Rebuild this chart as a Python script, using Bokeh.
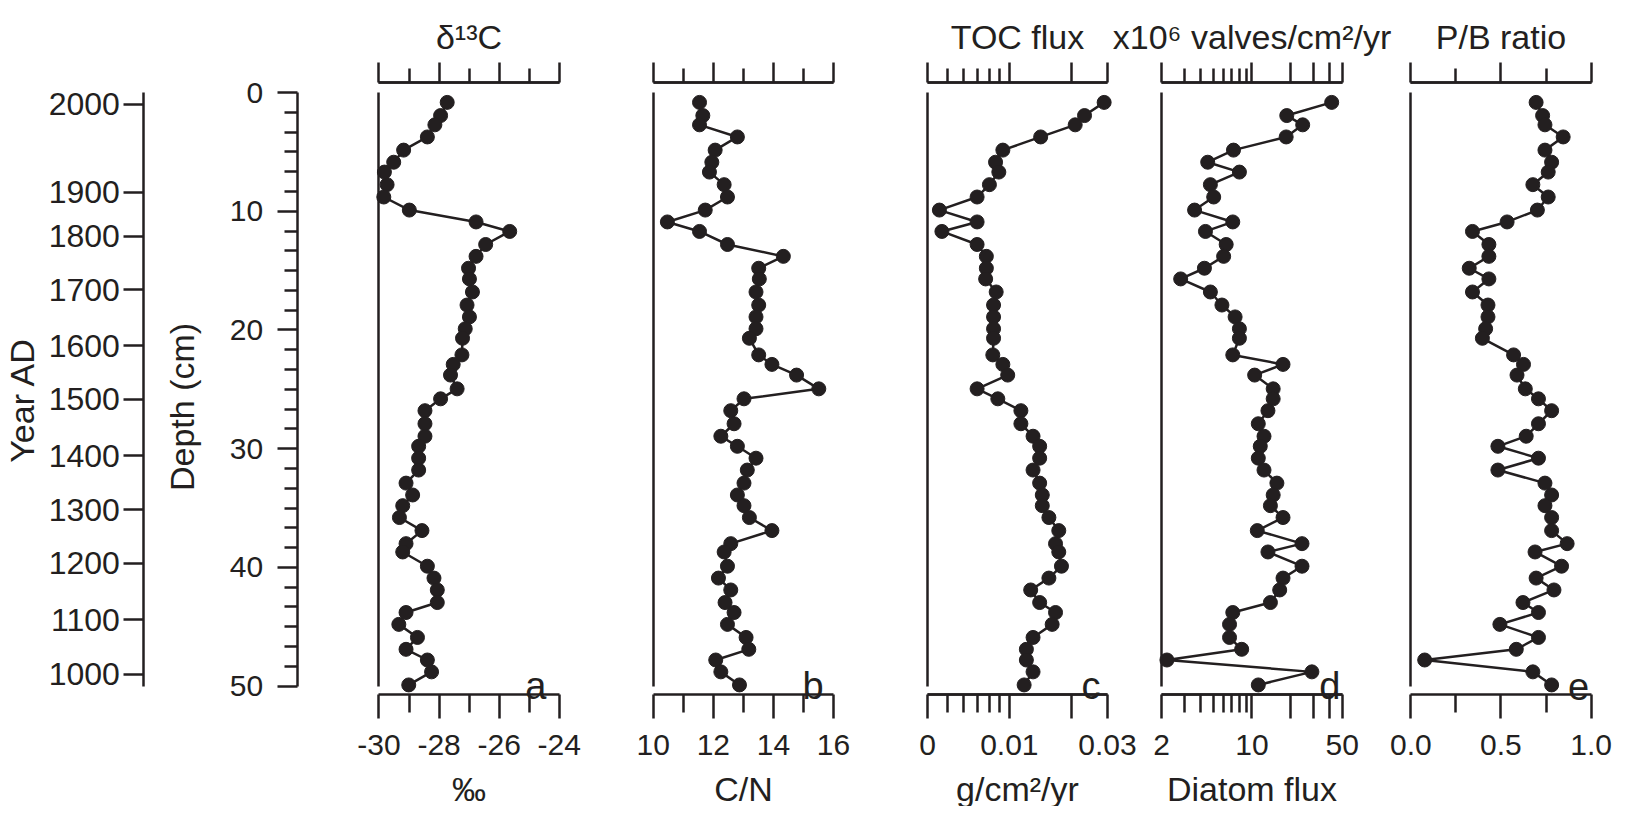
import math
from bokeh.plotting import figure
from bokeh.models import (Range1d, LinearAxis, LogAxis, LogScale, FixedTicker,
                          Label, ColumnDataSource)
from bokeh.embed import file_html
from bokeh.resources import INLINE

# ---------------- data ----------------
depth = [0.83, 1.94, 2.72, 3.74, 4.85, 5.87, 6.70, 7.76, 8.80, 9.90,
         10.9, 11.7, 12.8, 13.8, 14.8, 15.7, 16.8, 17.9, 18.9, 19.9,
         20.7, 22.1, 22.9, 23.8, 24.96, 25.8, 26.8, 27.9, 28.95, 29.8,
         30.8, 31.8, 32.9, 33.9, 34.8, 35.8, 36.9, 38.0, 38.7, 39.9,
         40.9, 41.9, 42.96, 43.8, 44.8, 45.9, 46.9, 47.8, 48.8, 49.9]

d13c = [-27.73, -27.95, -28.14, -28.39, -29.18, -29.51, -29.82, -29.73, -29.84, -28.99,
        -26.77, -25.65, -26.45, -26.77, -27.02, -26.99, -26.89, -27.07, -26.99, -27.13,
        -27.22, -27.24, -27.53, -27.62, -27.40, -27.95, -28.47, -28.47, -28.47, -28.68,
        -28.68, -28.68, -29.10, -28.88, -29.21, -29.32, -28.57, -29.10, -29.21, -28.39,
        -28.17, -28.06, -28.06, -29.10, -29.34, -28.72, -29.10, -28.39, -28.25, -29.01]

cn = [11.54, 11.65, 11.54, 12.80, 12.06, 11.95, 11.87, 12.36, 12.47, 11.73,
      10.47, 11.54, 12.47, 14.33, 13.51, 13.53, 13.42, 13.51, 13.42, 13.42,
      13.20, 13.51, 13.95, 14.77, 15.51, 13.02, 12.58, 12.69, 12.25, 12.80,
      13.42, 13.13, 13.02, 12.80, 13.02, 13.20, 13.95, 12.58, 12.36, 12.47,
      12.17, 12.58, 12.39, 12.69, 12.47, 13.09, 13.18, 12.08, 12.25, 12.87]

toc = [0.0289, 0.0232, 0.0209, 0.0142, 0.0093, 0.00857, 0.00889, 0.0080, 0.00697, 0.00457,
       0.00697, 0.0047, 0.00697, 0.00773, 0.00773, 0.00767, 0.00863, 0.00838, 0.00838, 0.00838,
       0.00838, 0.00831, 0.0093, 0.00982, 0.00697, 0.00879, 0.01138, 0.01138, 0.01304, 0.01404,
       0.01404, 0.01304, 0.01404, 0.01446, 0.01446, 0.01557, 0.01739, 0.01677, 0.01739, 0.01792,
       0.01557, 0.0127, 0.01404, 0.01677, 0.01615, 0.01304, 0.0121, 0.0121, 0.01304, 0.0118]

diatom = [41.4, 18.6, 24.7, 18.4, 7.2, 4.55, 8.0, 4.77, 5.06, 3.6,
          7.11, 4.37, 6.32, 6.04, 4.29, 2.81, 4.77, 5.86, 7.41, 8.0,
          8.0, 7.11, 17.4, 10.5, 14.6, 14.6, 13.3, 11.2, 12.4, 11.6,
          11.2, 12.4, 15.6, 14.6, 13.9, 17.4, 11.0, 24.4, 13.3, 24.4,
          17.4, 16.4, 13.9, 7.11, 6.71, 6.71, 8.33, 2.2, 29.1, 11.2]

pb = [0.695, 0.731, 0.744, 0.845, 0.744, 0.781, 0.762, 0.677, 0.762, 0.702,
      0.534, 0.342, 0.433, 0.433, 0.324, 0.433, 0.342, 0.428, 0.428, 0.415,
      0.397, 0.570, 0.625, 0.589, 0.635, 0.708, 0.781, 0.708, 0.640, 0.483,
      0.708, 0.483, 0.744, 0.781, 0.744, 0.781, 0.781, 0.867, 0.689, 0.836,
      0.695, 0.794, 0.622, 0.708, 0.494, 0.708, 0.585, 0.077, 0.677, 0.781]

year_labels = ["2000", "1900", "1800", "1700", "1600", "1500",
               "1400", "1300", "1200", "1100", "1000"]
year_depths = [0.97, 8.39, 12.11, 16.62, 21.33, 25.82,
               30.61, 35.13, 39.67, 44.41, 48.98]

depth_major = [0, 10, 20, 30, 40, 50]

# ---------------- layout / style ----------------
FONT = "Liberation Sans"
INK = "#231f20"
W, H = 1616, 806
SX, SY = 0.989, 0.9865          # slight squeeze of the reference layout to fit


def fx(x):
    return x * SX


def fy(y):
    return y * SY


LW = 2.5
Y0, Y50 = fy(93.3), fy(695.0)              # pixel rows of depth 0 and 50
KY = 50.0 / (Y50 - Y0)                     # cm per pixel


def row_to_depth(y):
    return (fy(y) - Y0) * KY


Y_RANGE_END = -Y0 * KY                     # depth at canvas top
Y_RANGE_START = 50 + (H - Y50) * KY        # depth at canvas bottom
Y_TOPAXIS = row_to_depth(82.7)
Y_BOTAXIS = row_to_depth(704.0)

p = figure(width=W, height=H, x_range=Range1d(0, W),
           y_range=Range1d(Y_RANGE_START, Y_RANGE_END),
           output_backend="svg", toolbar_location=None,
           x_axis_location=None, y_axis_location=None,
           min_border_left=0, min_border_right=0,
           min_border_top=0, min_border_bottom=0)
p.outline_line_color = None
p.background_fill_color = "white"
p.border_fill_color = "white"
p.grid.visible = False


def style(ax, major_out=0, minor_out=0, label_size="30px"):
    ax.axis_line_color = INK
    ax.axis_line_width = LW
    ax.major_tick_line_color = INK
    ax.major_tick_line_width = LW
    ax.minor_tick_line_color = INK
    ax.minor_tick_line_width = LW
    ax.major_tick_in = 0
    ax.minor_tick_in = 0
    ax.major_tick_out = major_out
    ax.minor_tick_out = minor_out
    ax.major_label_text_font = FONT
    ax.major_label_text_font_size = label_size
    ax.major_label_text_color = INK
    ax.axis_label_text_font = FONT
    ax.axis_label_text_font_size = "34px"
    ax.axis_label_text_font_style = "normal"
    ax.axis_label_text_color = INK
    return ax


# Year axis
ya = LinearAxis(fixed_location=fx(145), bounds=(0, 50),
                ticker=FixedTicker(ticks=year_depths),
                major_label_overrides=dict(zip(year_depths, year_labels)))
style(ya, 20, 0, "32px")
ya.major_label_standoff = 4
p.add_layout(ya, "left")
p.add_layout(Label(x=fx(22), y=row_to_depth(405), text="Year AD", angle=math.pi / 2,
                   text_align="center", text_baseline="alphabetic",
                   text_font=FONT, text_font_size="34px", text_color=INK))

# Depth axis
depth_minor = [d + i * 10 / 6 for d in range(0, 50, 10) for i in range(1, 6)]
da = LinearAxis(fixed_location=fx(300), bounds=(0, 50),
                ticker=FixedTicker(ticks=depth_major, minor_ticks=depth_minor))
style(da, 20, 13)
da.major_label_standoff = 14
p.add_layout(da, "left")
p.add_layout(Label(x=fx(184), y=row_to_depth(412), text="Depth (cm)", angle=math.pi / 2,
                   text_align="center", text_baseline="alphabetic",
                   text_font=FONT, text_font_size="34px", text_color=INK))

panels = [
    dict(name="a", col="d13c", lo=-30, hi=-24, px=(382.7, 565.0), log=False,
         major=[-30, -28, -26, -24], minor=[-29, -27, -25], long_extra=[],
         labels={-30: "-30", -28: "-28", -26: "-26", -24: "-24"},
         title="δ¹³C", unit="‰", letter="a", loff=-13),
    dict(name="b", col="cn", lo=10, hi=16, px=(660.0, 842.3), log=False,
         major=[10, 12, 14, 16], minor=[11, 13, 15], long_extra=[],
         labels={}, title=None, unit="C/N", letter="b", loff=-10),
    dict(name="c", col="toc", lo=0.004, hi=0.03, px=(937.3, 1119.3), log=True,
         major=[0.004, 0.01, 0.03], minor=[0.005, 0.006, 0.007, 0.008, 0.009],
         long_extra=[0.02], labels={0.004: "0", 0.01: "0.01", 0.03: "0.03"},
         title="TOC flux", unit="g/cm²/yr", letter="c", loff=-7),
    dict(name="d", col="diatom", lo=2, hi=50, px=(1174.0, 1356.7), log=True,
         major=[2, 10, 50], minor=[3, 4, 5, 6, 7, 8, 9],
         long_extra=[20, 30, 40], labels={2: "2", 10: "10", 50: "50"},
         title="x10⁶ valves/cm²/yr", unit="Diatom flux", letter="d", loff=-2),
    dict(name="e", col="pb", lo=0, hi=1, px=(1426.0, 1608.3), log=False,
         major=[0, 0.5, 1], minor=[0.25, 0.75], long_extra=[],
         labels={0: "0.0", 0.5: "0.5", 1: "1.0"},
         title="P/B ratio", unit=None, letter="e", loff=-2),
]

src = ColumnDataSource(dict(depth=depth, d13c=d13c, cn=cn, toc=toc, diatom=diatom, pb=pb))


def make_range(lo, hi, p0, p1, log):
    p0, p1 = fx(p0), fx(p1)
    a, b = (math.log10(lo), math.log10(hi)) if log else (lo, hi)
    k = (b - a) / (p1 - p0)
    s, e = a - p0 * k, b + (W - p1) * k
    if log:
        s, e = 10 ** s, 10 ** e
    return Range1d(s, e)


extra_ranges = {}
extra_scales = {}
for pan in panels:
    extra_ranges[pan["name"]] = make_range(pan["lo"], pan["hi"], pan["px"][0], pan["px"][1], pan["log"])
    if pan["log"]:
        extra_scales[pan["name"]] = LogScale()
p.extra_x_ranges = extra_ranges
p.extra_x_scales = extra_scales

for pan in panels:
    nm = pan["name"]
    Ax = LogAxis if pan["log"] else LinearAxis
    bounds = (pan["lo"], pan["hi"])
    long_ticks = pan["major"] + pan["long_extra"]

    # top axis: short ticks + title
    t1 = Ax(x_range_name=nm, fixed_location=Y_TOPAXIS, bounds=bounds,
            ticker=FixedTicker(ticks=[], minor_ticks=pan["minor"]),
            axis_label=pan["title"])
    style(t1, 20, 14)
    t1.axis_label_standoff = 13
    p.add_layout(t1, "above")
    t2 = Ax(x_range_name=nm, fixed_location=Y_TOPAXIS, bounds=bounds,
            ticker=FixedTicker(ticks=[], minor_ticks=long_ticks))
    style(t2, 20, 20)
    p.add_layout(t2, "above")

    # bottom axis: labelled ticks + unit
    b1 = Ax(x_range_name=nm, fixed_location=Y_BOTAXIS, bounds=bounds,
            ticker=FixedTicker(ticks=pan["major"], minor_ticks=pan["minor"]),
            axis_label=pan["unit"])
    if pan["labels"]:
        b1.major_label_overrides = pan["labels"]
    style(b1, 24, 18)
    b1.major_label_standoff = 16
    b1.axis_label_standoff = 12
    p.add_layout(b1, "below")
    if pan["long_extra"]:
        b2 = Ax(x_range_name=nm, fixed_location=Y_BOTAXIS, bounds=bounds,
                ticker=FixedTicker(ticks=[], minor_ticks=pan["long_extra"]))
        style(b2, 24, 24)
        p.add_layout(b2, "below")

    # panel's vertical base line
    v = LinearAxis(x_range_name=nm, fixed_location=pan["lo"], bounds=(0, 50),
                   ticker=FixedTicker(ticks=[]))
    style(v, 0, 0)
    p.add_layout(v, "left")

    # data
    p.line(x=pan["col"], y="depth", source=src, x_range_name=nm,
           line_color=INK, line_width=LW)
    p.scatter(x=pan["col"], y="depth", source=src, x_range_name=nm,
              size=14, fill_color=INK, line_color=INK)

    # panel letter
    p.add_layout(Label(x=pan["hi"], y=50, x_range_name=nm, text=pan["letter"],
                       text_align="right", text_baseline="alphabetic",
                       x_offset=pan["loff"], text_font=FONT,
                       text_font_size="38px", text_color=INK))

open("out.html", "w").write(file_html(p, INLINE))
